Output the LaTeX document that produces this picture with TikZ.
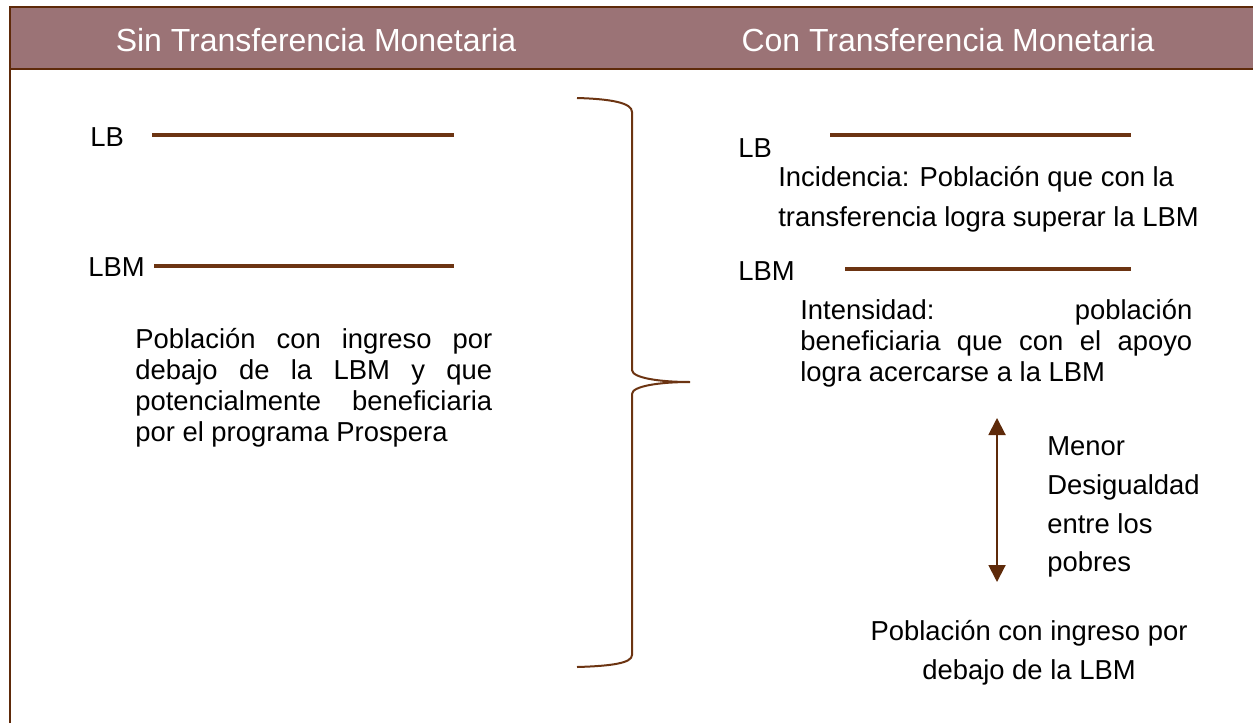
\documentclass[tikz,border=0pt]{standalone}
\usepackage{fontspec}
\setmainfont{Liberation Sans}
\usetikzlibrary{arrows.meta}
\definecolor{cafe}{RGB}{94,42,10}
\definecolor{linea}{RGB}{108,52,18}
\definecolor{malva}{RGB}{155,115,118}

\begin{document}
\begin{tikzpicture}[x=0.02cm,y=-0.02cm,
	texto/.style={font=\fontsize{15.6}{17.6}\selectfont, inner sep=0pt},
	parrafo/.style={texto, align=justify, anchor=north west},
	titulo/.style={font=\fontsize{18.2}{20}\selectfont, text=white, inner sep=0pt},
	nivel/.style={line width=0.08cm, draw=linea}]
			%%%%% START %%%%%
			\useasboundingbox (0,0) rectangle (1253,723);
			
			\fill[malva] (10,7) rectangle (1253,69);
			\draw[cafe, line width=0.05cm] (10,723) -- (10,7) -- (1253,7);
			\draw[cafe, line width=0.05cm] (10,69) -- (1253,69);
			
			\node[titulo] (tituloSin) at (316,40) {Sin Transferencia Monetaria};
			\node[titulo] (tituloCon) at (948,40) {Con Transferencia Monetaria};
			
			% sin transferencia
			\node[texto, anchor=west] (lbIzq) at (90,137) {LB};
			\coordinate (lbIzqA) at (152,135);
			\coordinate (lbIzqB) at (454,135);
			\draw[nivel] (lbIzqA) -- (lbIzqB);
			
			\node[texto, anchor=west] (lbmIzq) at (88,267) {LBM};
			\coordinate (lbmIzqA) at (154,266);
			\coordinate (lbmIzqB) at (454,266);
			\draw[nivel] (lbmIzqA) -- (lbmIzqB);
			
			\node[parrafo, text width=7.14cm] (pobIzq) at (135,328) {\hyphenpenalty=10000
				Población con ingreso por\linebreak debajo de la LBM y que\linebreak potencialmente beneficiaria\linebreak por el programa Prospera};
			
			% llave
			\draw[linea, line width=0.04cm] (577,98) .. controls (612,99) and (632,103) .. (632,112)
				-- (632,370) .. controls (632,378) and (660,382) .. (690,382)
				.. controls (660,382) and (632,386) .. (632,394)
				-- (632,655) .. controls (632,663) and (612,666) .. (577,667);
			
			% con transferencia
			\node[texto, anchor=west] (lbDer) at (738,148) {LB};
			\coordinate (lbDerA) at (830,135);
			\coordinate (lbDerB) at (1131,135);
			\draw[nivel] (lbDerA) -- (lbDerB);
			
			\node[texto, anchor=north west, align=left] (incid) at (778,166) {Incidencia: Población que con la\\[0.18cm] transferencia logra superar la LBM};
			
			\node[texto, anchor=west] (lbmDer) at (738,271) {LBM};
			\coordinate (lbmDerA) at (845,269);
			\coordinate (lbmDerB) at (1131,269);
			\draw[nivel] (lbmDerA) -- (lbmDerB);
			
			\node[parrafo, text width=7.84cm] (intens) at (800,299) {\hyphenpenalty=10000
				Intensidad: población\linebreak beneficiaria que con el apoyo\linebreak logra acercarse a la LBM};
			
			\coordinate (flechaA) at (997,418);
			\coordinate (flechaB) at (997,582);
			\draw[cafe, line width=0.04cm, {Triangle[width=0.34cm,length=0.34cm]}-{Triangle[width=0.34cm,length=0.34cm]}] (flechaA) -- (flechaB);
			
			\node[texto, anchor=north west, align=left] (menor) at (1047,436) {Menor\\[0.16cm] Desigualdad\\[0.16cm] entre los\\[0.16cm] pobres};
			
			\node[texto, anchor=north, align=center] (pobDer) at (1029,620) {Población con ingreso por\\[0.16cm] debajo de la LBM};
			%%%%% END %%%%%
\end{tikzpicture}
\end{document}
